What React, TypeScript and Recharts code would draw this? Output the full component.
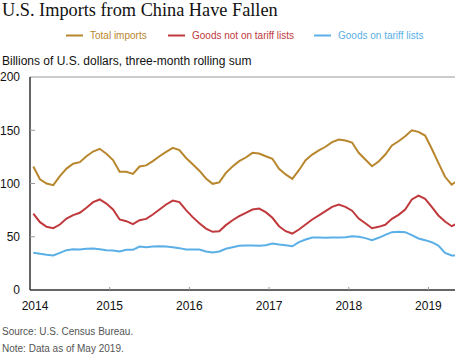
import React from "react";
import { LineChart, Line, XAxis, YAxis, ReferenceLine } from "recharts";

const totalImports = [116, 104, 100, 98.4, 107, 114, 118.5, 120, 125.6, 130, 132.6, 128, 122, 111, 111, 109, 116,
  117, 121, 125.6, 129.7, 133.5, 131.3, 124, 118, 112, 104.7, 99.7, 101, 110, 116, 121, 124.4,
  128.8, 128.2, 125.6, 123.2, 113.8, 108.5, 104.4, 112.5, 121.9, 127.2, 131, 134.5, 138.8, 141.3, 140.4, 138.5,
  128.8, 122.5, 116.2, 120.7, 127.2, 135.7, 139.7, 144.4, 150, 148.5, 145, 132.6, 119.4, 106.3, 99, 103];
const notOnTariff = [71.8, 63.7, 59.3, 58, 61.5, 67.1, 70.3, 72.5, 77.2, 82.5, 85, 81.2, 75.6, 66.2, 64.6, 61.8, 65.5,
  66.8, 70.9, 75.6, 80.3, 84, 82.5, 75, 68.4, 62.7, 57.7, 54.6, 55.2, 60.9, 65.5, 69.3, 72.5,
  75.6, 76.5, 73.1, 67.8, 59.9, 55.2, 53, 56.8, 61.5, 66.2, 70, 74, 78.1, 80.3, 78.1, 74.5,
  67.1, 62.7, 58, 59.3, 61.2, 66.8, 70.6, 75.6, 85, 88.7, 85.6, 78.1, 70, 64.3, 59.9, 63];
const onTariff = [34.9, 34, 33, 32.4, 34.9, 37.4, 38.3, 38, 38.7, 39, 38.3, 37.4, 37.1, 36.2, 37.7, 37.7, 40.8,
  40.2, 40.8, 41.1, 40.8, 40.2, 39.3, 38, 38, 38, 36.2, 35.2, 36.2, 38.7, 40.2, 41.5, 41.8,
  41.8, 41.5, 42.1, 43.7, 42.7, 42.1, 41.1, 44.9, 47.4, 49.3, 49.3, 49, 49.3, 49.3, 49.6, 50.5,
  49.9, 48.7, 46.8, 49, 51.8, 54.3, 54.6, 54.3, 51.5, 48.4, 46.8, 44.9, 41.8, 34.9, 32.4, 32.4];
const yearTicks = [0, 12, 24, 36, 48, 60];
const yearLabels = ["2014", "2015", "2016", "2017", "2018", "2019"];
const yTicks = [0, 50, 100, 150, 200];

const data = totalImports.map((v, i) => ({
  t: i + 0.5,
  total: v,
  notOn: notOnTariff[i],
  on: onTariff[i],
}));

const GOLD = "#B8862C";
const RED = "#C0393D";
const BLUE = "#5AAFE6";
const SANS = "'Liberation Sans', Arial, sans-serif";

const LeftTick = (props: any) => {
  const { x, y, payload } = props;
  const v = payload.value;
  return (
    <g>
      {v !== 0 && v !== 200 && <line x1={x} x2={x + 5} y1={y} y2={y} stroke="#999" strokeWidth={1} />}
      <text x={x - 10} y={y + 4.3} textAnchor="end" fontSize={12} fontFamily={SANS} fill="#111">{v}</text>
    </g>
  );
};

const RightTick = (props: any) => {
  const { x, y, payload } = props;
  const v = payload.value;
  if (v === 0 || v === 200) return <g />;
  return <line x1={x - 5} x2={x} y1={y} y2={y} stroke="#666" strokeWidth={1} />;
};

const BottomTick = (props: any) => {
  const { x, y, payload } = props;
  const idx = yearTicks.indexOf(payload.value);
  const label = yearLabels[idx] ?? "";
  const dx = idx === 0 ? 5 : 0;
  return (
    <g>
      {idx !== 0 && <line x1={x} x2={x} y1={y} y2={y - 3} stroke="#999" strokeWidth={1} />}
      <text x={x + dx} y={y + 20} textAnchor="middle" fontSize={12} fontFamily={SANS} fill="#111">{label}</text>
    </g>
  );
};

const legendItems = [
  { label: "Total imports", color: GOLD, x: 66 },
  { label: "Goods not on tariff lists", color: RED, x: 168 },
  { label: "Goods on tariff lists", color: BLUE, x: 314 },
];

export default function App() {
  return (
    <div style={{ position: "absolute", left: 0, top: 0, width: 460, height: 354, background: "#fff", overflow: "hidden" }}>
      <svg width={460} height={354} style={{ position: "absolute", left: 0, top: 0 }}>
        <text x={2} y={15.5} fontSize={18.3} fontFamily="'Liberation Serif', 'Times New Roman', serif" fill="#111">U.S. Imports from China Have Fallen</text>
        {legendItems.map((it) => (
          <g key={it.label}>
            <line x1={it.x} x2={it.x + 17} y1={35.5} y2={35.5} stroke={it.color} strokeWidth={2} />
            <text x={it.x + 24} y={39} fontSize={10} fontFamily={SANS} fill={it.color}>{it.label}</text>
          </g>
        ))}
        <text x={2} y={65} fontSize={12} fontFamily={SANS} fill="#111">Billions of U.S. dollars, three-month rolling sum</text>
        <text x={2} y={335} fontSize={10} fontFamily={SANS} fill="#555">Source: U.S. Census Bureau.</text>
        <text x={2} y={352} fontSize={10} fontFamily={SANS} fill="#555">Note: Data as of May 2019.</text>
      </svg>
      <div style={{ position: "absolute", left: 0, top: 0 }}>
        <LineChart width={460} height={354} data={data} margin={{ top: 77, right: 5, bottom: 0, left: 0 }}>
          <ReferenceLine yAxisId="l" y={200} stroke="#999" strokeWidth={1} />
          <XAxis
            dataKey="t"
            type="number"
            domain={[0, 64]}
            allowDataOverflow
            ticks={yearTicks}
            tickSize={0}
            tickMargin={0}
            tick={<BottomTick />}
            axisLine={{ stroke: "#333", strokeWidth: 1.5 }}
            tickLine={false}
            height={64}
          />
          <YAxis
            yAxisId="l"
            domain={[0, 200]}
            ticks={yTicks}
            width={30}
            tickSize={0}
            tickMargin={0}
            tick={<LeftTick />}
            tickLine={false}
            axisLine={{ stroke: "#333", strokeWidth: 1.5 }}
            allowDataOverflow
          />
          <YAxis
            yAxisId="r"
            orientation="right"
            domain={[0, 200]}
            ticks={yTicks}
            width={0}
            tickSize={0}
            tickMargin={0}
            tick={<RightTick />}
            tickLine={false}
            axisLine={{ stroke: "#888", strokeWidth: 2 }}
          />
          <Line yAxisId="l" dataKey="total" stroke={GOLD} strokeWidth={2} dot={false} isAnimationActive={false} />
          <Line yAxisId="l" dataKey="notOn" stroke={RED} strokeWidth={2} dot={false} isAnimationActive={false} />
          <Line yAxisId="l" dataKey="on" stroke={BLUE} strokeWidth={2} dot={false} isAnimationActive={false} />
        </LineChart>
      </div>
    </div>
  );
}
